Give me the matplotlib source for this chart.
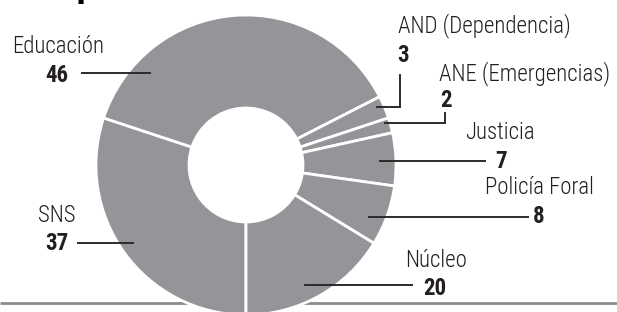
import matplotlib
matplotlib.use("Agg")
import matplotlib.pyplot as plt
from matplotlib import font_manager

# ---- data ----
categories = ["SNS", "Educación", "AND (Dependencia)", "ANE (Emergencias)",
              "Justicia", "Policía Foral", "Núcleo"]
values = [37, 46, 3, 2, 7, 8, 20]

# ---- fonts ----
names = {f.name for f in font_manager.fontManager.ttflist}
fam = None
for cand in ["Roboto Condensed", "Liberation Sans Narrow", "Roboto", "DejaVu Sans"]:
    if cand in names:
        fam = cand
        break
plt.rcParams['font.family'] = [fam, 'DejaVu Sans']

W, H = 617, 312
fig = plt.figure(figsize=(W / 100, H / 100), dpi=100)
ax = fig.add_axes([0, 0, 1, 1])
ax.set_xlim(0, W)
ax.set_ylim(0, H)
ax.set_aspect('equal')
ax.axis('off')

def Y(py):
    return H - py

GRAY = '#939598'
TXT = '#231f20'

# bottom rule
ax.plot([0, W], [Y(303), Y(303)], color='#8c8c8c', lw=2, zorder=1, solid_capstyle='butt')

# donut
cx, cy, R, r = 246, 165, 150, 57
ax.pie(values, center=(cx, Y(cy)), radius=R, startangle=270, counterclock=False,
       colors=[GRAY] * len(values),
       wedgeprops=dict(width=R - r, edgecolor='white', linewidth=2))
ax.set_xlim(0, W)
ax.set_ylim(0, H)
for p in ax.patches:
    p.set_zorder(2)

# label layout (pixel positions): name(x, baseline), value(x, baseline), connector points
layout = {
    "Educación": ((12, 53), (45, 82), [(82, 73), (150, 73)]),
    "SNS": ((38, 222), (45, 250), [(78, 243), (133, 243)]),
    "AND (Dependencia)": ((398, 32), (397, 62), [(377, 107), (400, 107), (400, 75)]),
    "ANE (Emergencias)": ((439, 80), (440, 107), [(385, 123), (445, 123), (445, 113)]),
    "Justicia": ((465, 139), (495, 168), [(380, 161), (485, 161)]),
    "Policía Foral": ((485, 194), (533, 223), [(369, 217), (528, 217)]),
    "Núcleo": ((405, 267), (423, 295), [(305, 285), (412, 285)]),
}

FS = 16.5
for cat, val in zip(categories, values):
    (nx, ny), (vx, vy), pts = layout[cat]
    ax.text(nx, Y(ny), cat, fontsize=FS, fontweight='light', color=TXT,
            ha='left', va='baseline', zorder=5)
    ax.text(vx, Y(vy), str(val), fontsize=FS, fontweight='bold', color=TXT,
            ha='left', va='baseline', zorder=5)
    xs = [p[0] for p in pts]
    ys = [Y(p[1]) for p in pts]
    ax.plot(xs, ys, color='#2b2b2b', lw=1.4, zorder=4, solid_joinstyle='miter')

# cut-off title fragment at the top
ax.text(75, Y(-2), "p", fontsize=21, fontweight='bold', color='black',
        family='DejaVu Sans', ha='left', va='baseline', zorder=5)

fig.savefig("out.png", dpi=100)
